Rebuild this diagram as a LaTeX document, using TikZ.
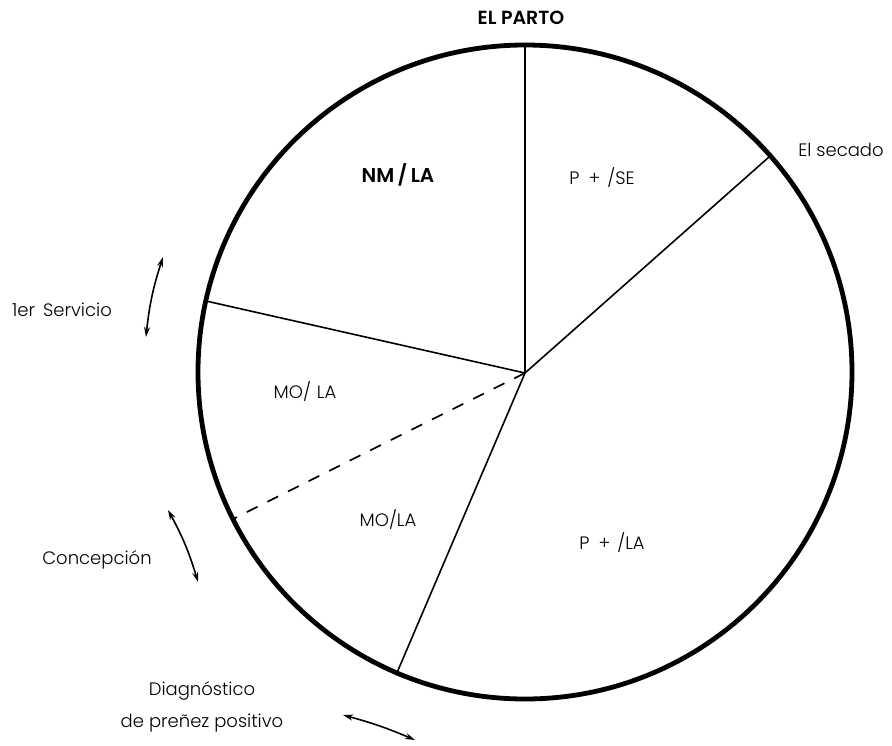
\documentclass[tikz,border=0pt]{standalone}
\usepackage{fontspec}
\setmainfont{Poppins}
% thin face for labels, semibold face for headings, with fallbacks
\IfFontExistsTF{Poppins Light}{\newfontfamily\labelface{Poppins Light}}{\newcommand\labelface{\normalfont}}
\IfFontExistsTF{Poppins SemiBold}{\newfontfamily\headface{Poppins SemiBold}}{\newcommand\headface{\bfseries}}
\usetikzlibrary{arrows.meta}
\begin{document}
\begin{tikzpicture}[x=1pt,y=-1pt,
  rim/.style={line width=4.8pt},
  spoke/.style={line width=1.6pt},
  cycle/.style={line width=1.6pt,{Stealth[length=10pt,width=6pt]}-{Stealth[length=10pt,width=6pt]}},
  lbl/.style={inner sep=0pt,font=\labelface\fontsize{18}{22}\selectfont},
  sector/.style={inner sep=0pt,font=\labelface\fontsize{18}{22}\selectfont},
  head/.style={inner sep=0pt,font=\headface\fontsize{19}{22}\selectfont}]
\useasboundingbox (0,0) rectangle (892,745);
% outer rim of the cycle
\draw[rim] (525,372) circle[radius=327pt];
% hub and points on the rim
\coordinate (O) at (525,373);
\coordinate (parto) at (525,45);
\coordinate (secado) at (769,157);
\coordinate (servicio) at (206,301);
\coordinate (concep) at (233,519);
\coordinate (diag) at (396,675);
% sector boundaries
\draw[spoke] (O) -- (parto);
\draw[spoke] (O) -- (secado);
\draw[spoke] (O) -- (servicio);
\draw[spoke] (O) -- (diag);
\draw[spoke,dash pattern=on 12pt off 11pt] (O) -- (concep);
% titles
\node[head] (tparto) at (521,18) {EL PARTO};
\node[lbl] (tsecado) at (841,150) {El secado};
% sector labels
\node[head,font=\headface\fontsize{20}{22}\selectfont] (s1) at (398,175) {NM\,/\,LA};
\node[sector] (s2) at (602,178) {P\hspace{9pt}+\hspace{7pt}/SE};
\node[sector] (s3) at (305,392) {MO/\hspace{6pt}LA};
\node[sector] (s4) at (388,520) {MO/LA};
\node[sector] (s5) at (612,543) {P\hspace{9pt}+\hspace{7pt}/LA};
% events around the rim
\node[lbl] (tserv) at (62,310) {1er\hspace{8pt}Servicio};
\node[lbl] (tconc) at (97,560) {Concepción};
\node[lbl,align=center] (tdiag) at (202,707) {Diagnóstico\\[10pt]de preñez positivo};
% double arrows along the rim
\coordinate (a1) at (163,257); \coordinate (a2) at (146,337);
\coordinate (b1) at (168,510); \coordinate (b2) at (198,582);
\coordinate (c1) at (343,715); \coordinate (c2) at (415,740);
\draw[cycle] (a1) to[bend right=6] (a2);
\draw[cycle] (b1) to[bend left=6] (b2);
\draw[cycle] (c1) to[bend left=4] (c2);
\end{tikzpicture}
\end{document}
